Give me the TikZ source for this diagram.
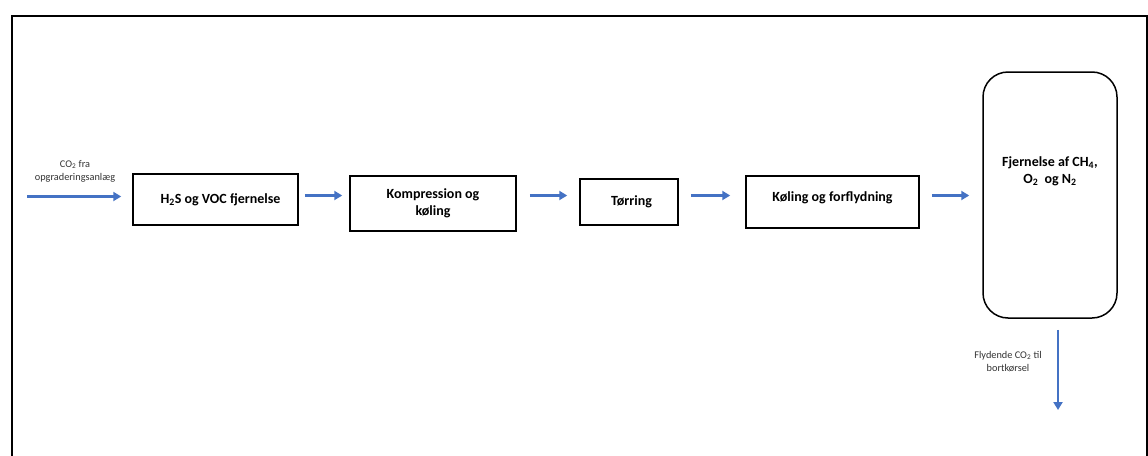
\documentclass[tikz,border=0pt]{standalone}
\usepackage{fontspec}
\setmainfont{Carlito}
\usetikzlibrary{arrows.meta}
\definecolor{flowblue}{HTML}{4472C4}
\begin{document}
\begin{tikzpicture}[x=1pt,y=-1pt,
  stepbox/.style={draw=black,line width=1.5pt,rectangle,inner sep=0pt,
    font=\fontsize{14}{16.5}\selectfont\bfseries,align=center},
  flow/.style={draw=flowblue,line width=2.2pt,
    -{Triangle[length=8pt,width=9pt]}},
  note/.style={font=\fontsize{10.3}{13.5}\selectfont,text=black!80,align=center,inner sep=0pt}]
  \clip (0,0) rectangle (1148,455);
  \fill[white] (0,0) rectangle (1148,455);
  % outer frame, open at the bottom
  \draw[line width=2pt] (11.5,470) -- (11.5,15.5) -- (1146.5,15.5) -- (1146.5,470);

  % process steps
  \node[stepbox,minimum width=165pt,minimum height=51pt] (b1) at (215.5,199.5)
    {\hspace{10pt}H\textsubscript{2}S og VOC fjernelse};
  \node[stepbox,minimum width=166pt,minimum height=55pt] (b2) at (433,203.5)
    {\raisebox{-3pt}{\begin{tabular}{@{}c@{}}Kompression og\\k\o ling\end{tabular}}};
  \node[stepbox,minimum width=98pt,minimum height=46pt] (b3) at (629,202)
    {\hspace{5pt}T\o rring};
  \node[stepbox,minimum width=173pt,minimum height=52pt] (b4) at (832.5,202)
    {\raisebox{10pt}{K\o ling og forflydning}};
  \node[stepbox,rounded corners=25pt,minimum width=134pt,minimum height=246pt] (b5) at (1050,195)
    {\raisebox{60pt}{\begin{tabular}{@{}c@{}}Fjernelse af CH\textsubscript{4},\\O\textsubscript{2}\ \ og N\textsubscript{2}\end{tabular}}};

  % flow line height and free ends
  \coordinate (main) at (0,195.5);
  \coordinate (feed) at (27,196.5);
  \coordinate (product) at (1058,410);

  \draw[flow,shorten >=11pt] (feed) -- (b1.west |- feed);
  \draw[flow,shorten <=6pt,shorten >=7pt] (b1.east |- main) -- (b2.west |- main);
  \draw[flow,shorten <=13pt,shorten >=12pt] (b2.east |- main) -- (b3.west |- main);
  \draw[flow,shorten <=12pt,shorten >=15pt] (b3.east |- main) -- (b4.west |- main);
  \draw[flow,shorten <=12pt,shorten >=13pt] (b4.east |- main) -- (b5.west |- main);
  \draw[flow,shorten <=11pt] (b5.south -| product) -- (product);

  % stream labels
  \node[note] (lin) at (75,171.5) {CO\textsubscript{2} fra\\opgraderingsanl\ae g};
  \node[note] (lout) at (1008,361.5) {Flydende CO\textsubscript{2} til\\bortk\o rsel};
\end{tikzpicture}
\end{document}
